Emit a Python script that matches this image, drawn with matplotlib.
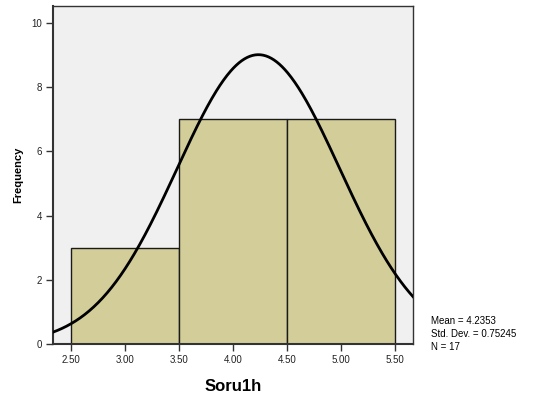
import numpy as np
import matplotlib
matplotlib.use("Agg")
import matplotlib.pyplot as plt

plt.rcParams['font.family'] = ['Liberation Sans', 'DejaVu Sans']

bin_edges = [2.5, 3.5, 4.5, 5.5]
counts = [3, 7, 7]
mean = 4.2353
sd = 0.75245
n = 17
xticks = [2.5, 3.0, 3.5, 4.0, 4.5, 5.0, 5.5]
yticks = [0, 2, 4, 6, 8, 10]

fig = plt.figure(figsize=(5.46, 4.0), dpi=100)
ax = fig.add_axes([53/546, 56/400, 360/546, 338/400])
ax.set_facecolor('#f0f0f0')

lefts = bin_edges[:-1]
widths = np.diff(bin_edges)
ax.bar(lefts, counts, width=widths, align='edge', color='#d3ce99',
       edgecolor='#1a1a1a', linewidth=1.0, zorder=2)

xs = np.linspace(2.3334, 5.6667, 400)
binw = widths[0]
ys = n * binw / (sd * np.sqrt(2 * np.pi)) * np.exp(-0.5 * ((xs - mean) / sd) ** 2)
ax.plot(xs, ys, color='black', linewidth=2.0, zorder=3)

ax.set_xlim(2.3334, 5.6667)
ax.set_ylim(0, 10.53)
ax.set_xticks(xticks)
ax.set_xticklabels([f"{t:.2f}" for t in xticks], fontsize=7)
ax.set_yticks(yticks)
ax.set_yticklabels([str(t) for t in yticks], fontsize=7)
ax.tick_params(axis='both', length=5, width=1.0, color='#333333', pad=3, labelcolor='#222222')
for s in ax.spines.values():
    s.set_color('#333333')
    s.set_linewidth(1.0)
ax.spines['left'].set_linewidth(1.5)
ax.spines['bottom'].set_linewidth(1.5)

ax.set_xlabel('Soru1h', fontsize=12, fontweight='bold', labelpad=10)
ax.set_ylabel('Frequency', fontsize=8, fontweight='bold', labelpad=6)

fig.text(431/546, 1 - 321/400, f"Mean = {mean}", fontsize=7, va='center', ha='left')
fig.text(431/546, 1 - 334/400, f"Std. Dev. = {sd}", fontsize=7, va='center', ha='left')
fig.text(431/546, 1 - 347/400, f"N = {n}", fontsize=7, va='center', ha='left')

fig.savefig('out.png', dpi=100)
